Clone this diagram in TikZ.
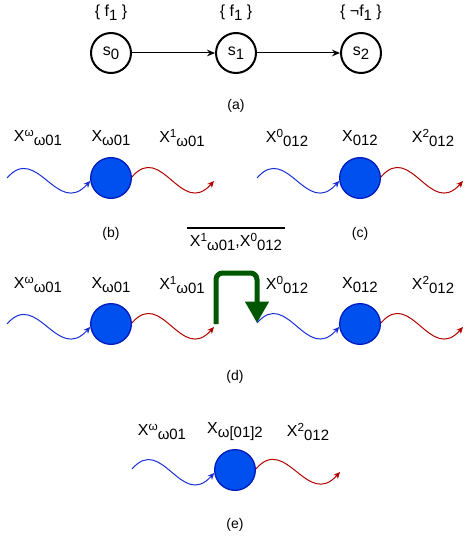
\documentclass[tikz,border=0pt]{standalone}
\usepackage{fontspec}
\setmainfont{Liberation Sans}
\usetikzlibrary{arrows.meta,positioning}
\definecolor{ballfill}{HTML}{0050EF}
\definecolor{ballline}{HTML}{001DBC}
\definecolor{inblue}{HTML}{1A2FD6}
\definecolor{outred}{HTML}{B20000}
\definecolor{jumpgreen}{HTML}{005700}
\newcommand{\hisc}[1]{\raisebox{4.3pt}{\fontsize{8.8}{9}\selectfont #1}}
\newcommand{\losc}[1]{\raisebox{-3pt}{\fontsize{11.2}{11}\selectfont #1}}

\begin{document}
\begin{tikzpicture}[
    x=0.75pt, y=-0.75pt, on grid,
    font=\fontsize{12}{14}\selectfont,
    state/.style={draw=black, circle, line width=1.5pt, minimum size=30pt, inner sep=0pt},
    ball/.style={draw=ballline, fill=ballfill, circle, line width=1pt, minimum size=30.5pt, inner sep=0pt},
    lbl/.style={inner sep=1pt},
    subcap/.style={font=\fontsize{10.5}{12}\selectfont},
    trans/.style={-{Stealth[length=6pt,width=5pt,inset=2pt]}, line width=0.75pt},
    wave/.style={line width=0.75pt, -{Stealth[length=5pt,width=4.5pt,inset=1.5pt]}},
    win/.style={wave, draw=inblue},
    wout/.style={wave, draw=outred},
    jump/.style={draw=jumpgreen, line width=3.75pt, rounded corners=5pt, -{Triangle[length=16pt,width=17pt]}}
]
\useasboundingbox (0,0) rectangle (466,538);

\node[state] (s0) at (111,53) {s\losc{0}};
\node[state, right=93.75pt of s0] (s1) {s\losc{1}};
\node[state, right=93.75pt of s1] (s2) {s\losc{2}};
\node[lbl, above=30pt of s0] (f0) {\{ f\losc{1} \}};
\node[lbl, above=30pt of s1] (f1) {\{ f\losc{1} \}};
\node[lbl, above=30pt of s2] (f2) {\{ ¬f\losc{1} \}};
\node[subcap] (capa) at (236,106) {(a)};
\draw[trans] (s0) -- (s1);
\draw[trans] (s1) -- (s2);

\node[ball] (b1) at (111,178) {};
\node[lbl, above=30pt of b1] (xb) {X\losc{ω01}};
\node[lbl, above left=30pt and 54.75pt of b1] (xbin) {X\hisc{ω}\losc{ω01}};
\node[lbl, above right=30pt and 53.25pt of b1] (xbout) {X\hisc{1}\losc{ω01}};
\coordinate (bin) at (7,178);
\coordinate (bout) at (214,181);
\draw[win] (bin) .. controls +(30,-35) and +(-33,37) .. (b1.188);
\draw[wout] (b1.3) .. controls +(30,-35) and +(-33,37) .. (bout);
\node[subcap] (capb) at (111,234) {(b)};

\node[ball] (c1) at (360,178) {};
\node[lbl, above=30pt of c1] (xc) {X\losc{012}};
\node[lbl, above left=30pt and 54.75pt of c1] (xcin) {X\hisc{0}\losc{012}};
\node[lbl, above right=30pt and 54.75pt of c1] (xcout) {X\hisc{2}\losc{012}};
\coordinate (cin) at (257,178);
\coordinate (cout) at (463,181);
\draw[win] (cin) .. controls +(30,-35) and +(-33,37) .. (c1.188);
\draw[wout] (c1.3) .. controls +(30,-35) and +(-33,37) .. (cout);
\node[subcap] (capc) at (360,234) {(c)};

\node[lbl, inner xsep=2pt, inner ysep=3.5pt] (meet) at (236,242) {X\hisc{1}\losc{ω01},X\hisc{0}\losc{012}};
\draw[line width=1.5pt] (meet.north west) -- (meet.north east);

\node[ball] (d1) at (111,324) {};
\node[lbl, above=29.25pt of d1] (xd1) {X\losc{ω01}};
\node[lbl, above left=29.25pt and 54.75pt of d1] (xd1in) {X\hisc{ω}\losc{ω01}};
\node[lbl, above right=29.25pt and 53.25pt of d1] (xd1out) {X\hisc{1}\losc{ω01}};
\node[ball] (d2) at (360,324) {};
\node[lbl, above=29.25pt of d2] (xd2) {X\losc{012}};
\node[lbl, above left=29.25pt and 54.75pt of d2] (xd2in) {X\hisc{0}\losc{012}};
\node[lbl, above right=29.25pt and 54.75pt of d2] (xd2out) {X\hisc{2}\losc{012}};
\coordinate (d1in) at (7,324);
\coordinate (d1out) at (214,327);
\coordinate (jfrom) at (216,324);
\coordinate (d2in) at (257,323);
\coordinate (d2out) at (463,327);
\draw[win] (d1in) .. controls +(30,-35) and +(-33,37) .. (d1.188);
\draw[wout] (d1.3) .. controls +(30,-35) and +(-33,37) .. (d1out);
\draw[jump] (jfrom) -- ++(0,-51) -| (d2in);
\draw[win] (d2in) .. controls +(30,-35) and +(-33,37) .. (d2.188);
\draw[wout] (d2.3) .. controls +(30,-35) and +(-33,37) .. (d2out);
\node[subcap] (capd) at (235,377) {(d)};

\node[ball] (e1) at (235,470) {};
\node[lbl, above=28.5pt of e1] (xe) {X\losc{ω[01]2}};
\node[lbl, above left=28.5pt and 54.75pt of e1] (xein) {X\hisc{ω}\losc{ω01}};
\node[lbl, above right=28.5pt and 54.75pt of e1] (xeout) {X\hisc{2}\losc{012}};
\coordinate (ein) at (132,469);
\coordinate (eout) at (340,472);
\draw[win] (ein) .. controls +(30,-35) and +(-33,37) .. (e1.188);
\draw[wout] (e1.3) .. controls +(30,-35) and +(-33,37) .. (eout);
\node[subcap] (cape) at (235,525) {(e)};

\end{tikzpicture}
\end{document}
